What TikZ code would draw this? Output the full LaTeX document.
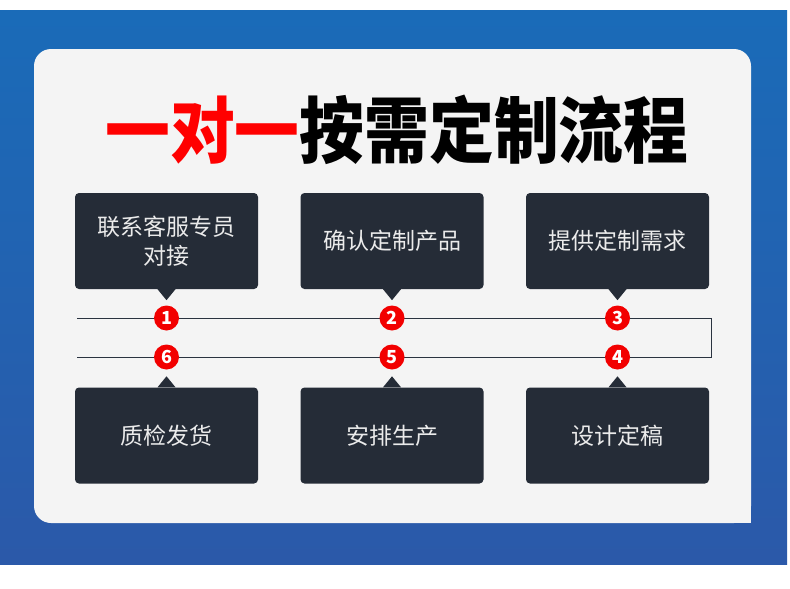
\documentclass[tikz,border=0pt]{standalone}
\usepackage{fontspec}
\newfontfamily\cjk{Noto Sans CJK SC}
\newfontfamily\titlefont{Noto Sans CJK SC}[FakeStretch=0.9]
\usetikzlibrary{positioning}
\definecolor{bgtop}{HTML}{1A6BB8}
\definecolor{bgbottom}{HTML}{2B59A9}
\definecolor{cardfill}{HTML}{F4F4F4}
\definecolor{boxfill}{HTML}{252C37}
\definecolor{linecol}{HTML}{2A3340}
\definecolor{dotred}{HTML}{F20000}
\definecolor{titlered}{HTML}{FF0000}
\tikzstyle{stepbox} = [rectangle, rounded corners=4pt, minimum width=183pt, minimum height=96pt, inner sep=0pt, fill=boxfill, text=white!92!black, align=center, font=\cjk\fontsize{23}{29}\selectfont]
\tikzstyle{dot} = [circle, fill=dotred, minimum size=25pt, inner sep=0pt, text=white, font=\cjk\bfseries\fontsize{18}{18}\selectfont]
\tikzstyle{track} = [draw=linecol, line width=1pt]

\begin{document}
\begin{tikzpicture}[x=1pt, y=-1pt]
\useasboundingbox (0,0) rectangle (790,589);

% Background and card
\shade[top color=bgtop, bottom color=bgbottom] (0,10) rectangle (787,564);
\fill[cardfill, rounded corners=17pt] (34,49) rectangle (751,523);
\fill[cardfill] (731,503) rectangle (751,523);

% Title
\node (title) at (397,130) {\titlefont\bfseries\fontsize{72}{72}\selectfont\textcolor{titlered}{一对一}按需定制流程};

% Steps
\node[stepbox] (s1) at (166.5,241) {联系客服专员\\对接};
\node[stepbox] (s2) at (392,241) {确认定制产品};
\node[stepbox] (s3) at (617.5,241) {提供定制需求};
\node[stepbox] (s4) at (617.5,435.5) {设计定稿};
\node[stepbox] (s5) at (392,435.5) {安排生产};
\node[stepbox] (s6) at (166.5,435.5) {质检发货};

% Pointers
\foreach \s in {s1,s2,s3}
  \fill[boxfill] ([xshift=-9pt]\s.south) -- ([yshift=-11pt]\s.south) -- ([xshift=9pt]\s.south) -- cycle;
\foreach \s in {s4,s5,s6}
  \fill[boxfill] ([xshift=-9pt]\s.north) -- ([yshift=11pt]\s.north) -- ([xshift=9pt]\s.north) -- cycle;

% Track
\coordinate (l1) at (77,318);
\coordinate (r1) at (711,318);
\coordinate (r2) at (711,357);
\coordinate (l2) at (77,357);
\draw[track] (l1) -- (r1) -- (r2) -- (l2);

% Numbers
\node[dot] (n1) at (166.5,318) {1};
\node[dot] (n2) at (392,318) {2};
\node[dot] (n3) at (617.5,318) {3};
\node[dot] (n4) at (617.5,357) {4};
\node[dot] (n5) at (392,357) {5};
\node[dot] (n6) at (166.5,357) {6};

\end{tikzpicture}
\end{document}
